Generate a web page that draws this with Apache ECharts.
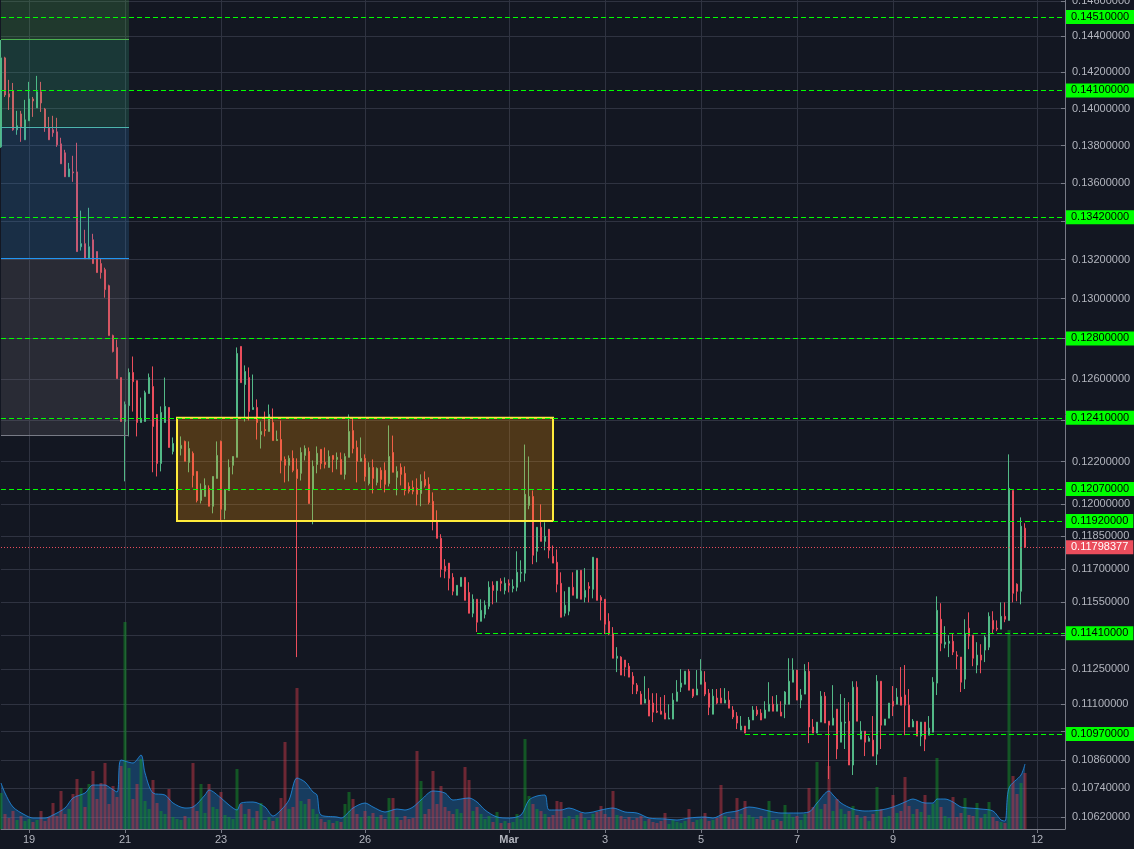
<!DOCTYPE html>
<html><head><meta charset="utf-8">
<script src="https://cdn.jsdelivr.net/npm/echarts@6/dist/echarts.min.js"></script>
<style>html,body{margin:0;padding:0;background:#131722;}#c{width:1134px;height:849px;}</style>
</head><body><div id="c"></div>
<script>
// 2-hour candles, first slot Feb 18 10:00
const startTime = Date.UTC(2019, 1, 18, 10);
const slotCount = 267;
const categories = [];
for (let i = 0; i < slotCount; i++) {
  const d = new Date(startTime + i * 7200000);
  categories.push((d.getUTCMonth() + 1) + '-' + d.getUTCDate() + ' ' + String(d.getUTCHours()).padStart(2, '0') + ':00');
}
// [open, close, low, high]
const candles = [
[.13793,.14280,.13788,.14380],[.14280,.14075,.14064,.14286],[.14081,.14064,.13993,.14158],[.14097,.13885,.13880,.14141],
[.13885,.13907,.13858,.13988],[.13971,.13901,.13820,.13988],[.13831,.13939,.13831,.14048],[.13934,.14053,.13934,.14147],
[.14053,.14042,.13955,.14064],[.14004,.14092,.14004,.14180],[.14092,.14031,.13982,.14147],[.13998,.13896,.13874,.14004],
[.13896,.13831,.13831,.13955],[.13885,.13869,.13847,.13961],[.13874,.13804,.13793,.13950],[.13809,.13702,.13702,.13842],
[.13761,.13633,.13633,.13777],[.13633,.13675,.13633,.13707],[.13659,.13654,.13606,.13745],[.13659,.13241,.13241,.13815],
[.13266,.13282,.13246,.13454],[.13282,.13204,.13204,.13354],[.13204,.13266,.13204,.13469],[.13302,.13179,.13179,.13333],
[.13241,.13133,.13133,.13241],[.13179,.13133,.13102,.13204],[.13148,.13046,.13005,.13158],[.13066,.12814,.12814,.13071],
[.12814,.12735,.12730,.12819],[.12755,.12601,.12601,.12794],[.12606,.12392,.12392,.12606],[.12392,.12474,.12106,.12489],
[.12469,.12631,.12320,.12651],[.12631,.12586,.12440,.12710],[.12591,.12387,.12320,.12591],[.12387,.12402,.12387,.12508],
[.12392,.12532,.12392,.12542],[.12528,.12606,.12528,.12626],[.12562,.12368,.12149,.12661],[.12426,.12191,.12129,.12426],
[.12191,.12436,.12153,.12465],[.12387,.12465,.12387,.12606],[.12460,.12267,.12267,.12460],[.12248,.12286,.12234,.12315],
[.12281,.12300,.12281,.12315],[.12262,.12277,.12229,.12320],[.12296,.12201,.12201,.12300],[.12196,.12262,.12149,.12296],
[.12239,.12134,.12077,.12248],[.12153,.12016,.12007,.12153],[.12016,.12068,.12002,.12096],[.12035,.12087,.12035,.12120],
[.12073,.11989,.11989,.12087],[.11989,.12129,.11956,.12129],[.12120,.12229,.12120,.12296],[.12296,.11975,.11923,.12300],
[.11970,.12068,.11928,.12068],[.12063,.12172,.12063,.12210],[.12182,.12224,.12139,.12224],[.12220,.12725,.12220,.12755],
[.12760,.12581,.12581,.12760],[.12572,.12636,.12392,.12666],[.12606,.12440,.12397,.12656],[.12450,.12460,.12450,.12621],
[.12460,.12387,.12305,.12499],[.12329,.12344,.12262,.12392],[.12353,.12348,.12320,.12440],[.12344,.12426,.12344,.12474],
[.12387,.12300,.12300,.12455],[.12300,.12305,.12300,.12348],[.12305,.12205,.12144,.12397],[.12210,.12182,.12101,.12224],
[.12182,.12215,.12106,.12229],[.12215,.12158,.12149,.12253],[.12163,.12120,.11304,.12215],[.12144,.12243,.12110,.12267],
[.12229,.12262,.12205,.12277],[.12248,.12002,.12002,.12267],[.12068,.12177,.11905,.12205],[.12186,.12239,.12144,.12272],
[.12258,.12191,.12163,.12258],[.12196,.12186,.12167,.12267],[.12172,.12224,.12172,.12253],[.12229,.12210,.12149,.12229],
[.12210,.12220,.12163,.12243],[.12210,.12139,.12139,.12243],[.12139,.12224,.12115,.12239],[.12220,.12344,.12220,.12426],
[.12348,.12262,.12239,.12407],[.12267,.12201,.12101,.12300],[.12201,.12215,.12201,.12315],[.12215,.12129,.12106,.12234],
[.12096,.12172,.12087,.12196],[.12172,.12120,.12049,.12210],[.12101,.12167,.12087,.12172],[.12158,.12115,.12073,.12172],
[.12158,.12092,.12054,.12196],[.12096,.12224,.12082,.12373],[.12243,.12149,.12149,.12324],[.12125,.12153,.12040,.12177],
[.12172,.12139,.12087,.12191],[.12144,.12063,.12040,.12177],[.12082,.12059,.12049,.12101],[.12077,.12059,.12045,.12110],
[.12073,.12045,.11993,.12120],[.12049,.12106,.11989,.12139],[.12115,.12087,.12077,.12153],[.12092,.12007,.11998,.12125],
[.12012,.11923,.11877,.12054],[.11919,.11840,.11840,.11970],[.11840,.11698,.11661,.11859],[.11712,.11689,.11657,.11744],
[.11726,.11657,.11602,.11726],[.11661,.11598,.11580,.11680],[.11580,.11625,.11580,.11625],[.11620,.11661,.11620,.11661],
[.11661,.11557,.11557,.11661],[.11593,.11499,.11499,.11639],[.11499,.11562,.11481,.11584],[.11562,.11459,.11415,.11562],
[.11463,.11512,.11463,.11562],[.11494,.11535,.11476,.11557],[.11530,.11616,.11517,.11643],[.11625,.11602,.11539,.11643],
[.11602,.11643,.11548,.11643],[.11643,.11634,.11598,.11657],[.11602,.11634,.11584,.11661],[.11634,.11625,.11593,.11652],
[.11611,.11620,.11593,.11652],[.11616,.11684,.11598,.11780],[.11680,.11684,.11639,.11739],[.11680,.12045,.11643,.12281],
[.11993,.12035,.11975,.12224],[.12035,.11762,.11721,.12063],[.11780,.11891,.11730,.11891],[.11891,.11826,.11826,.11998],
[.11826,.11849,.11785,.11914],[.11882,.11785,.11748,.11882],[.11757,.11726,.11726,.11807],[.11730,.11630,.11593,.11789],
[.11634,.11481,.11481,.11684],[.11499,.11535,.11485,.11598],[.11508,.11616,.11490,.11616],[.11616,.11580,.11580,.11684],
[.11566,.11693,.11566,.11693],[.11693,.11562,.11562,.11693],[.11571,.11602,.11548,.11703],[.11620,.11611,.11548,.11639],
[.11607,.11753,.11566,.11753],[.11748,.11557,.11557,.11748],[.11571,.11557,.11467,.11580],[.11562,.11450,.11406,.11562],
[.11463,.11406,.11401,.11499],[.11410,.11299,.11299,.11437],[.11299,.11308,.11238,.11348],[.11304,.11225,.11225,.11308],
[.11291,.11260,.11220,.11291],[.11264,.11216,.11216,.11278],[.11220,.11185,.11142,.11238],[.11181,.11155,.11142,.11190],
[.11142,.11098,.11098,.11155],[.11103,.11120,.11103,.11220],[.11116,.11047,.11047,.11168],[.11103,.11064,.11021,.11146],
[.11068,.11064,.11060,.11146],[.11068,.11055,.11055,.11129],[.11060,.11034,.11034,.11138],[.11034,.11038,.11034,.11098],
[.11034,.11116,.11034,.11146],[.11111,.11151,.11111,.11203],[.11172,.11190,.11151,.11251],[.11185,.11242,.11185,.11242],
[.11242,.11159,.11159,.11251],[.11164,.11133,.11125,.11164],[.11138,.11164,.11138,.11247],[.11185,.11242,.11185,.11295],
[.11194,.11142,.11133,.11242],[.11146,.11085,.11051,.11164],[.11055,.11133,.11055,.11164],[.11125,.11103,.11098,.11164],
[.11125,.11103,.11103,.11168],[.11103,.11116,.11103,.11168],[.11116,.11081,.11081,.11155],[.11073,.11043,.11034,.11090],
[.11047,.11017,.10991,.11064],[.10987,.11004,.10987,.11047],[.11004,.10974,.10974,.11004],[.10991,.11030,.10991,.11043],
[.11030,.11073,.11030,.11090],[.11073,.11055,.11047,.11090],[.11060,.11030,.11030,.11077],[.11038,.11073,.11038,.11111],
[.11068,.11098,.11068,.11194],[.11098,.11068,.11068,.11133],[.11068,.11098,.11068,.11138],[.11064,.11047,.11047,.11111],
[.11098,.11151,.11038,.11155],[.11098,.11198,.11098,.11299],[.11194,.11247,.11194,.11299],[.11247,.11116,.11116,.11247],
[.11116,.11138,.11081,.11164],[.11142,.11242,.11142,.11273],[.11242,.11000,.10931,.11282],[.11000,.10974,.10974,.11034],
[.10974,.11021,.10974,.11021],[.11021,.11133,.11021,.11155],[.11133,.11017,.11017,.11151],[.11025,.11008,.10779,.11025],
[.11008,.11038,.11008,.11181],[.11077,.10906,.10863,.11077],[.10935,.11021,.10935,.11142],[.11017,.11021,.10906,.11125],
[.11025,.10838,.10838,.11107],[.10838,.11172,.10796,.11198],[.11172,.11025,.11025,.11198],[.10948,.10982,.10948,.11025],
[.10982,.10935,.10876,.10982],[.10939,.10952,.10939,.10961],[.10944,.10876,.10876,.11047],[.10884,.11198,.10838,.11225],
[.11198,.11008,.10906,.11198],[.11008,.11034,.11008,.11034],[.11038,.11103,.11038,.11103],[.11111,.11090,.11047,.11177],
[.11098,.11129,.11098,.11168],[.11129,.11094,.11094,.11260],[.11138,.11094,.10965,.11269],[.11094,.11000,.11000,.11164],
[.11000,.11025,.11000,.11034],[.11025,.10961,.10961,.11025],[.10961,.11021,.10918,.11021],[.11021,.10948,.10897,.11021],
[.10965,.10995,.10965,.11047],[.10978,.11194,.10978,.11216],[.11190,.11512,.11138,.11575],[.11472,.11365,.11330,.11544],
[.11361,.11370,.11343,.11441],[.11365,.11374,.11304,.11401],[.11374,.11326,.11313,.11406],[.11313,.11308,.11251,.11330],
[.11304,.11194,.11151,.11304],[.11207,.11406,.11164,.11472],[.11432,.11397,.11339,.11503],[.11401,.11299,.11264,.11401],
[.11269,.11313,.11233,.11370],[.11313,.11291,.11233,.11361],[.11335,.11392,.11282,.11401],[.11348,.11485,.11335,.11503],
[.11467,.11428,.11406,.11508],[.11432,.11428,.11419,.11467],[.11428,.11485,.11428,.11548],[.11485,.11472,.11459,.11548],
[.11467,.12073,.11467,.12234],[.12063,.11589,.11548,.12063],[.11630,.11598,.11553,.11634],[.11598,.11896,.11539,.11937],
[.11887,.11798377,.11798,.11910]
];
const volumes = [
360,150,110,180,90,130,80,100,70,90,180,80,120,260,130,380,150,200,350,500,
410,220,450,580,300,460,660,250,430,320,630,2070,610,300,450,700,280,200,490,260,
180,150,400,120,100,90,130,110,660,180,450,160,450,220,200,370,140,120,100,600,
250,150,200,110,180,260,90,120,80,110,310,870,200,220,1410,280,250,300,200,150,
100,70,90,60,80,70,250,370,300,150,120,180,130,160,120,140,100,310,310,120,
90,130,100,110,780,480,150,200,580,250,430,220,180,150,200,160,620,490,180,220,
150,100,130,70,170,60,80,60,70,150,100,900,330,250,200,180,150,120,140,280,
270,110,130,100,140,160,110,90,150,170,230,150,120,380,140,130,100,120,90,110,
130,80,100,70,60,80,160,50,90,70,60,80,200,70,90,100,160,80,90,110,
440,130,120,100,310,150,280,140,120,100,130,110,280,90,100,80,240,150,120,130,
90,150,410,220,670,200,250,630,180,300,200,150,180,230,140,110,130,80,150,420,
200,120,130,340,160,180,520,230,150,200,170,340,140,250,710,220,130,110,320,120,
160,310,140,130,260,110,150,270,120,80,70,60,1990,530,350,460,560
];
const volumeAvg = [
[0,460],[1,360],[3,220],[6,140],[8,110],[11,110],[13,140],[16,210],[18,310],[21,360],[23,440],[26,440],[27,420],[29,370],
[30,690],[33,660],[35,740],[36,560],[38,360],[41,340],[43,260],[46,210],[48,220],[51,340],[52,390],[55,310],[57,240],[59,190],
[60,260],[63,270],[66,220],[68,130],[70,190],[72,290],[74,510],[76,470],[78,370],[79,340],[80,140],[84,120],[85,110],[88,210],
[91,260],[93,220],[96,170],[99,200],[101,190],[103,220],[105,290],[108,380],[111,360],[113,290],[117,310],[119,270],[121,190],
[124,120],[127,110],[130,140],[132,290],[134,330],[136,340],[137,190],[140,190],[142,210],[146,160],[148,170],[150,190],[153,210],
[156,170],[159,160],[162,110],[166,100],[169,90],[172,110],[176,120],[178,110],[181,160],[184,180],[187,220],[189,210],[192,180],
[195,160],[199,160],[202,170],[204,260],[207,380],[208,340],[210,260],[213,200],[216,180],[220,190],[223,220],[226,270],[228,300],
[231,260],[233,260],[234,300],[236,300],[238,270],[240,220],[242,210],[245,200],[248,180],[250,90],[251,80],[252,410],[255,540],[256,650]
];
const xTickIndex = [7, 31, 55, 91, 127, 151, 175, 199, 223, 259];
const xTickLabels = ['19', '21', '23', '26', 'Mar', '3', '5', '7', '9', '12'];
const yGridValues = [0.146,0.144,0.142,0.140,0.138,0.136,0.134,0.132,0.130,0.128,0.126,0.124,0.122,0.120,0.1185,0.117,0.1155,0.114,0.1125,0.111,0.1098,0.1086,0.1074,0.1062];
const yLabelValues = [0.146,0.144,0.142,0.140,0.138,0.136,0.132,0.130,0.126,0.122,0.120,0.1185,0.117,0.1155,0.1125,0.111,0.1086,0.1074,0.1062];
const fullLevels = [0.1451, 0.1410, 0.1342, 0.1280, 0.1241, 0.1207];
const partialLevels = [[138, 0.1192], [119, 0.1141], [186, 0.1097]];
const lastPrice = 0.11798377;
const fibLevels = [0.14606, 0.14386, 0.13901, 0.13204, 0.12324];
const fibFill = ['rgba(76,175,80,0.23)', 'rgba(56,190,140,0.2)', 'rgba(50,140,210,0.2)', 'rgba(130,125,130,0.2)'];
const fibLine = ['#4caf50', '#4db6ac', '#2196f3', '#787b86'];
const fibRange = [0, 32];
const boxRange = [44, 138, 0.1241, 0.1192];

const FONT = '"Liberation Sans", Arial, sans-serif';
const UP = '#53b987', DOWN = '#eb4d5c';
const isTickX = (idx) => xTickIndex.indexOf(idx) >= 0;
const lastIdx = slotCount - 1;

const levelData = fullLevels.map(p => ({
  yAxis: p,
  label: { formatter: p.toFixed(8) }
}));
partialLevels.forEach(([s, p]) => {
  levelData.push([
    { coord: [s, p], label: { formatter: p.toFixed(8) } },
    { coord: [lastIdx, p], label: { formatter: p.toFixed(8) } }
  ]);
});
levelData.push({
  yAxis: lastPrice,
  lineStyle: { color: DOWN, type: [1, 2], width: 1 },
  label: { formatter: lastPrice.toFixed(8), backgroundColor: DOWN, color: '#ffffff' }
});

const fibAreas = [];
for (let k = 0; k < 4; k++) {
  fibAreas.push([
    { coord: [fibRange[0], fibLevels[k]], itemStyle: { color: fibFill[k] } },
    { coord: [fibRange[1], fibLevels[k + 1]] }
  ]);
}
const fibLines = [];
for (let k = 1; k < 5; k++) {
  fibLines.push([
    { coord: [fibRange[0], fibLevels[k]], lineStyle: { color: fibLine[k - 1] } },
    { coord: [fibRange[1], fibLevels[k]], lineStyle: { color: fibLine[k - 1] } }
  ]);
}

const chart = echarts.init(document.getElementById('c'), null, { renderer: 'canvas' });
chart.setOption({
  animation: false,
  backgroundColor: '#131722',
  grid: { left: 1, right: 69, top: 0, bottom: 20, containLabel: false, outerBoundsMode: 'none' },
  xAxis: {
    type: 'category', data: categories, boundaryGap: false,
    axisLine: { show: true, lineStyle: { color: '#787b86', width: 1 } },
    axisTick: { show: true, interval: isTickX, length: 4, lineStyle: { color: '#787b86' } },
    axisLabel: {
      interval: isTickX, margin: 5, color: '#b2b5be', fontSize: 11, fontFamily: FONT, hideOverlap: false,
      formatter: (v, idx) => {
        const k = xTickIndex.indexOf(idx);
        if (k < 0) return '';
        return xTickLabels[k] === 'Mar' ? '{b|Mar}' : xTickLabels[k];
      },
      rich: { b: { fontWeight: 'bold', color: '#b2b5be', fontSize: 11, fontFamily: FONT } }
    },
    splitLine: { show: true, interval: isTickX, lineStyle: { color: '#2f3341', width: 1 } }
  },
  yAxis: [{
    type: 'log', logBase: 10, position: 'right', min: 0.10571, max: 0.14606, scale: true,
    axisLine: { show: true, lineStyle: { color: '#787b86', width: 1 } },
    axisTick: { show: true, inside: true, length: 4, customValues: yGridValues, lineStyle: { color: '#787b86' } },
    axisLabel: {
      customValues: yLabelValues, margin: 7, color: '#b2b5be', fontSize: 11, fontFamily: FONT, hideOverlap: false,
      formatter: v => Number(v).toFixed(8)
    },
    splitLine: { show: true, lineStyle: { color: '#2f3341', width: 1 } }
  }, {
    type: 'value', min: 0, max: 8290, show: false, splitLine: { show: false }
  }],
  series: [
    {
      type: 'bar', yAxisIndex: 1, barWidth: 3, z: 2, silent: true,
      data: volumes.map((v, i) => ({
        value: v,
        itemStyle: { color: candles[i][1] >= candles[i][0] ? 'rgba(20,150,40,0.5)' : 'rgba(200,55,70,0.5)' }
      }))
    },
    {
      type: 'line', yAxisIndex: 1, data: volumeAvg, smooth: 0.3, symbol: 'none', z: 2, silent: true,
      lineStyle: { color: 'rgba(33,150,243,0.75)', width: 1 },
      areaStyle: { color: 'rgba(33,150,243,0.42)' }
    },
    {
      type: 'candlestick', data: candles, barWidth: 2, z: 3, silent: true,
      itemStyle: { color: UP, color0: DOWN, borderColor: UP, borderColor0: DOWN, borderWidth: 1 }
    },
    {
      type: 'line', data: [], z: 9, silent: true,
      markArea: { silent: true, z: 9, data: fibAreas },
      markLine: { silent: true, z: 9, precision: 8, symbol: ['none', 'none'], label: { show: false },
        lineStyle: { type: 'solid', width: 1 }, data: fibLines }
    },
    {
      type: 'line', data: [], z: 10, silent: true,
      markArea: {
        silent: true, z: 10,
        itemStyle: { color: 'rgba(255,152,0,0.25)', borderColor: '#ffeb3b', borderWidth: 2 },
        data: [[{ coord: [boxRange[0], boxRange[2]] }, { coord: [boxRange[1], boxRange[3]] }]]
      },
      markLine: {
        silent: true, z: 11, precision: 8, symbol: ['none', 'none'],
        lineStyle: { color: '#00ff00', type: [5, 3], width: 1 },
        label: {
          show: true, position: 'end', distance: 1, backgroundColor: '#00ff00', color: '#000000',
          fontSize: 11, fontFamily: FONT, padding: [2, 5, 1, 5]
        },
        data: levelData
      }
    }
  ]
});
</script>
</body></html>
